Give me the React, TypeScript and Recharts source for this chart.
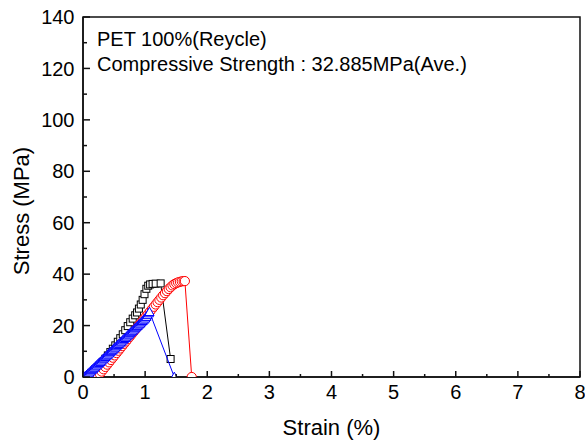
import React from 'react';
import { ScatterChart, Scatter, XAxis, YAxis, Label, ReferenceArea } from 'recharts';

const FONT = '"Liberation Sans", Arial, Helvetica, sans-serif';

const xTicks = [0, 0.5, 1, 1.5, 2, 2.5, 3, 3.5, 4, 4.5, 5, 5.5, 6, 6.5, 7, 7.5, 8];
const yTicks = [0, 10, 20, 30, 40, 50, 60, 70, 80, 90, 100, 110, 120, 130, 140];
const yMajorStep = 20;
const xDomain = [0, 8];
const yDomain = [0, 140];

const titleLines = ['PET 100%(Reycle)', 'Compressive Strength : 32.885MPa(Ave.)'];
const xTitle = 'Strain (%)';
const yTitle = 'Stress (MPa)';

// Specimen 1 (black squares)
const blackStrain = [0.08, 0.12, 0.16, 0.2, 0.24, 0.28, 0.32, 0.36, 0.4, 0.44, 0.48, 0.52, 0.56, 0.6, 0.64, 0.68, 0.72, 0.76, 0.8, 0.84, 0.87, 0.9, 0.93, 0.96, 0.99, 1.02, 1.05, 1.08, 1.12, 1.17, 1.25, 1.41];
const blackStress = [0, 0.5, 1.4, 2.5, 3.6, 4.7, 5.9, 7.1, 8.4, 9.7, 11.0, 12.3, 13.7, 15.1, 16.6, 18.2, 19.8, 21.3, 22.7, 24.0, 25.1, 26.6, 28.2, 30.0, 32.2, 34.3, 35.5, 36.0, 36.2, 36.3, 36.4, 7.0];

// Specimen 2 (red circles)
const redStrain = [0.21, 0.24, 0.27, 0.3, 0.33, 0.36, 0.39, 0.42, 0.45, 0.48, 0.51, 0.54, 0.57, 0.6, 0.63, 0.66, 0.69, 0.72, 0.75, 0.78, 0.81, 0.84, 0.87, 0.9, 0.93, 0.96, 0.99, 1.02, 1.05, 1.08, 1.11, 1.14, 1.17, 1.2, 1.23, 1.26, 1.29, 1.32, 1.35, 1.38, 1.41, 1.44, 1.47, 1.5, 1.53, 1.56, 1.59, 1.62, 1.64, 1.75];
const redStress = [0, 0.5, 1.2, 2.1, 3.0, 3.9, 4.8, 5.7, 6.6, 7.5, 8.4, 9.3, 10.2, 11.1, 12.0, 12.9, 13.8, 14.7, 15.6, 16.5, 17.4, 18.3, 19.2, 20.1, 21.0, 21.9, 22.8, 23.7, 24.6, 25.5, 26.4, 27.3, 28.2, 29.1, 30.0, 30.9, 31.8, 32.6, 33.4, 34.2, 34.9, 35.6, 36.1, 36.5, 36.8, 37.0, 37.2, 37.3, 37.3, 0];

// Specimen 3 (blue triangles)
const blueStrain = [0, 0.02, 0.04, 0.06, 0.08, 0.1, 0.12, 0.14, 0.16, 0.18, 0.2, 0.22, 0.24, 0.26, 0.28, 0.3, 0.32, 0.34, 0.36, 0.38, 0.4, 0.42, 0.44, 0.46, 0.48, 0.5, 0.52, 0.54, 0.56, 0.58, 0.6, 0.62, 0.64, 0.66, 0.68, 0.7, 0.72, 0.74, 0.76, 0.78, 0.8, 0.82, 0.84, 0.86, 0.88, 0.9, 0.92, 0.94, 0.96, 0.98, 1.0, 1.02, 1.04, 1.06, 1.07, 1.47];
const blueStress = [0, 0.1, 0.4, 0.8, 1.3, 1.7, 2.2, 2.7, 3.1, 3.6, 4.1, 4.5, 5.0, 5.5, 5.9, 6.4, 6.9, 7.3, 7.8, 8.3, 8.7, 9.2, 9.7, 10.1, 10.6, 11.1, 11.5, 12.0, 12.5, 12.9, 13.4, 13.8, 14.3, 14.8, 15.2, 15.7, 16.2, 16.6, 17.1, 17.6, 18.0, 18.5, 19.0, 19.4, 19.9, 20.4, 20.8, 21.3, 21.8, 22.3, 22.8, 23.4, 24.1, 24.8, 25.3, 0];

const toPoints = (xs: number[], ys: number[]) => xs.map((x, i) => ({ x, y: ys[i] }));
const blackData = toPoints(blackStrain, blackStress);
const redData = toPoints(redStrain, redStress);
const blueData = toPoints(blueStrain, blueStress);

const AXIS = '#111';

const XTick = (props: any) => {
  const { x, y, payload } = props;
  const v = payload.value;
  const major = Number.isInteger(v);
  return (
    <g>
      <line x1={x} x2={x} y1={y} y2={y - (major ? 6 : 3)} stroke={AXIS} strokeWidth={1.5} />
      {major && (
        <text x={x} y={y + 8} dy="0.71em" textAnchor="middle" fontSize={20} fontFamily={FONT} fill="#000">
          {v}
        </text>
      )}
    </g>
  );
};

const YTick = (props: any) => {
  const { x, y, payload } = props;
  const v = payload.value;
  const major = v % yMajorStep === 0;
  return (
    <g>
      <line x1={x} x2={x + (major ? 7 : 4)} y1={y} y2={y} stroke={AXIS} strokeWidth={1.5} />
      {major && (
        <text x={x - 8.5} y={y} dy="0.355em" textAnchor="end" fontSize={20} fontFamily={FONT} fill="#000">
          {v}
        </text>
      )}
    </g>
  );
};

const Square = (props: any) => {
  const { cx, cy } = props;
  return <rect x={cx - 3.5} y={cy - 3.5} width={7} height={7} fill="#fff" stroke="#000" strokeWidth={1} />;
};
const Circle = (props: any) => {
  const { cx, cy } = props;
  return <circle cx={cx} cy={cy} r={4.6} fill="#fff" stroke="#ff0000" strokeWidth={1} />;
};
const Triangle = (props: any) => {
  const { cx, cy } = props;
  const pts = `${cx},${cy - 4.8} ${cx - 4.6},${cy + 3.6} ${cx + 4.6},${cy + 3.6}`;
  return <polygon points={pts} fill="#fff" stroke="#0000ff" strokeWidth={1} />;
};

export default function App() {
  return (
    <div style={{ position: 'absolute', left: 0, top: 0, width: 585, height: 444, background: '#fff' }}>
      <ScatterChart width={585} height={444} margin={{ top: 17, right: 5, bottom: 0, left: 0 }}>
        <XAxis
          type="number"
          dataKey="x"
          domain={xDomain}
          ticks={xTicks}
          interval={0}
          height={67}
          tickSize={0}
          tickMargin={0}
          tickLine={false}
          tick={<XTick />}
          axisLine={{ stroke: AXIS, strokeWidth: 1.5 }}
          allowDataOverflow
        >
          <Label
            content={(p: any) => (
              <text
                x={p.viewBox.x + p.viewBox.width / 2}
                y={435}
                textAnchor="middle"
                fontSize={22}
                fontFamily={FONT}
                fill="#000"
              >
                {xTitle}
              </text>
            )}
          />
        </XAxis>
        <YAxis
          type="number"
          dataKey="y"
          domain={yDomain}
          ticks={yTicks}
          interval={0}
          width={83}
          tickSize={0}
          tickMargin={0}
          tickLine={false}
          tick={<YTick />}
          axisLine={{ stroke: AXIS, strokeWidth: 1.5 }}
          allowDataOverflow
        >
          <Label
            content={() => (
              <text
                x={29}
                y={211}
                transform="rotate(-90 29 211)"
                textAnchor="middle"
                fontSize={22}
                fontFamily={FONT}
                fill="#000"
              >
                {yTitle}
              </text>
            )}
          />
        </YAxis>
        <ReferenceArea
          x1={xDomain[0]}
          x2={xDomain[1]}
          y1={yDomain[0]}
          y2={yDomain[1]}
          fill="none"
          fillOpacity={0}
          stroke={AXIS}
          strokeWidth={1.5}
          ifOverflow="visible"
        >
          <Label
            content={(p: any) => (
              <g>
                {titleLines.map((t, i) => (
                  <text
                    key={i}
                    x={p.viewBox.x + 14}
                    y={p.viewBox.y + 29 + i * 25}
                    fontSize={20}
                    fontFamily={FONT}
                    fill="#000"
                  >
                    {t}
                  </text>
                ))}
              </g>
            )}
          />
        </ReferenceArea>
        <Scatter
          data={blackData}
          isAnimationActive={false}
          line={{ stroke: '#000', strokeWidth: 1 }}
          lineType="joint"
          shape={<Square />}
        />
        <Scatter
          data={redData}
          isAnimationActive={false}
          line={{ stroke: '#ff0000', strokeWidth: 1 }}
          lineType="joint"
          shape={<Circle />}
        />
        <Scatter
          data={blueData}
          isAnimationActive={false}
          line={{ stroke: '#0000ff', strokeWidth: 1 }}
          lineType="joint"
          shape={<Triangle />}
        />
      </ScatterChart>
    </div>
  );
}
